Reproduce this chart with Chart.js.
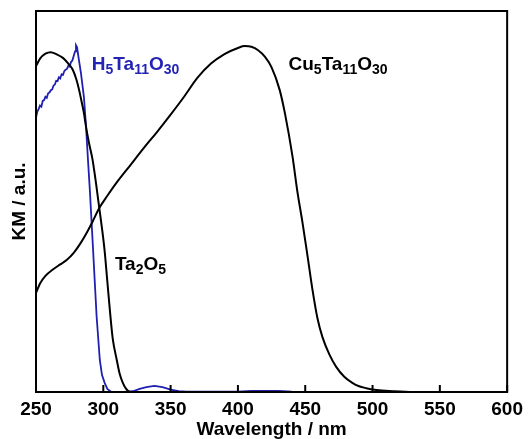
<!DOCTYPE html>
<html>
<head>
<meta charset="utf-8">
<script src="https://cdn.jsdelivr.net/npm/chart.js@4/dist/chart.umd.min.js"></script>
<style>
  body { margin: 0; background: #fff; }
  canvas { display: block; }
</style>
</head>
<body>
<canvas id="myChart" width="529" height="439"></canvas>
<script>
// wavelength (nm) and KM values
const wlCu = [250, 253, 257, 262, 268, 273, 278, 283, 288, 292, 297, 303, 310, 320, 330, 340, 350, 360, 370, 380, 390, 400, 405, 410, 415, 420, 425, 431, 435, 440.6, 444, 448, 452, 455.4, 459, 462.8, 468, 473, 479, 485, 490, 495.4, 503, 515, 530, 600];
const kmCu = [0.26, 0.285, 0.305, 0.32, 0.335, 0.347, 0.365, 0.39, 0.42, 0.447, 0.483, 0.515, 0.55, 0.595, 0.64, 0.683, 0.728, 0.775, 0.825, 0.862, 0.887, 0.903, 0.908, 0.906, 0.897, 0.88, 0.852, 0.793, 0.73, 0.617, 0.53, 0.444, 0.35, 0.268, 0.195, 0.144, 0.098, 0.066, 0.04, 0.024, 0.015, 0.01, 0.005, 0.002, 0, 0];

const wlTa = [250, 253, 257, 261, 265, 270, 274, 277.4, 280, 282, 284, 285.6, 287, 289, 292, 294.5, 297, 299, 301, 303, 305, 307, 310, 312, 314.5, 317, 320, 330, 600];
const kmTa = [0.855, 0.875, 0.888, 0.892, 0.887, 0.877, 0.862, 0.845, 0.82, 0.793, 0.76, 0.732, 0.70, 0.66, 0.61, 0.55, 0.483, 0.43, 0.37, 0.29, 0.21, 0.14, 0.084, 0.05, 0.024, 0.008, 0, 0, 0];

const wlH = [250, 251, 252, 253, 254, 255, 256, 257, 258, 259, 260, 261, 262, 263, 264, 265, 266, 267, 268, 269, 270, 271, 272, 273, 274, 275, 276, 277, 278, 279, 279.7, 280.5, 281.5, 283.4, 285.6, 287, 288.6, 290, 292.3, 295, 297.4, 299, 301, 303, 306, 315, 322, 327, 332, 338, 344, 350, 356, 362, 400, 410, 430, 440, 500, 540, 600];
const kmH = [0.72, 0.736, 0.743, 0.752, 0.749, 0.764, 0.766, 0.775, 0.772, 0.784, 0.786, 0.792, 0.794, 0.804, 0.807, 0.817, 0.816, 0.826, 0.823, 0.834, 0.832, 0.842, 0.846, 0.848, 0.856, 0.854, 0.866, 0.87, 0.882, 0.894, 0.91, 0.905, 0.88, 0.837, 0.774, 0.706, 0.61, 0.53, 0.38, 0.2, 0.084, 0.045, 0.024, 0.008, 0, 0, 0.002, 0.008, 0.013, 0.016, 0.013, 0.006, 0.002, 0.001, 0.001, 0.003, 0.003, 0.001, 0.0005, 0, 0];

const xTicks = [250, 300, 350, 400, 450, 500, 550, 600];

const blue = '#1f1fb0';
const fontFamily = '"Liberation Sans", Arial, sans-serif';

const toPoints = (xs, ys) => xs.map((x, i) => ({ x: x, y: ys[i] }));

// frame, inner ticks and compound labels
const framePlugin = {
    id: 'frame',
    afterDraw(chart) {
        const ctx = chart.ctx;
        const a = chart.chartArea;
        const xs = chart.scales.x;
        const ys = chart.scales.y;
        ctx.save();
        ctx.strokeStyle = '#000';
        ctx.lineWidth = 2;
        ctx.strokeRect(a.left, a.top, a.right - a.left, a.bottom - a.top);
        ctx.beginPath();
        xTicks.forEach(function (t) {
            const px = xs.getPixelForValue(t);
            ctx.moveTo(px, a.bottom);
            ctx.lineTo(px, a.bottom - 7);
        });
        ctx.stroke();

        const drawChem = function (parts, wl, km, color) {
            let x = xs.getPixelForValue(wl);
            const y = ys.getPixelForValue(km);
            ctx.fillStyle = color;
            ctx.textBaseline = 'alphabetic';
            ctx.textAlign = 'left';
            parts.forEach(function (p, i) {
                const sub = i % 2 === 1;
                ctx.font = 'bold ' + (sub ? 14 : 19) + 'px ' + fontFamily;
                ctx.fillText(p, x, sub ? y + 4 : y);
                x += ctx.measureText(p).width;
            });
        };
        drawChem(['H', '5', 'Ta', '11', 'O', '30'], 291.5, 0.845, '#2424b4');
        drawChem(['Cu', '5', 'Ta', '11', 'O', '30'], 437.6, 0.845, '#000');
        drawChem(['Ta', '2', 'O', '5'], 308.6, 0.32, '#000');
        ctx.restore();
    }
};

const ctx = document.getElementById('myChart').getContext('2d');

const myChart = new Chart(ctx, {
    type: 'line',
    data: {
        datasets: [
            { label: 'Cu5Ta11O30', data: toPoints(wlCu, kmCu), borderColor: '#000', borderWidth: 2, pointRadius: 0, cubicInterpolationMode: 'monotone' },
            { label: 'Ta2O5', data: toPoints(wlTa, kmTa), borderColor: '#000', borderWidth: 2, pointRadius: 0, cubicInterpolationMode: 'monotone' },
            { label: 'H5Ta11O30', data: toPoints(wlH, kmH), borderColor: blue, borderWidth: 1.8, pointRadius: 0, tension: 0 }
        ]
    },
    options: {
        responsive: false,
        animation: false,
        devicePixelRatio: 1,
        layout: { padding: { top: 11, right: 21, left: 0, bottom: 0 } },
        plugins: { legend: { display: false }, tooltip: { enabled: false } },
        scales: {
            x: {
                type: 'linear',
                min: 250,
                max: 600,
                afterBuildTicks: function (scale) {
                    scale.ticks = xTicks.map(v => ({ value: v }));
                },
                afterFit: function (scale) { scale.height = 47; },
                grid: { display: false, drawTicks: false },
                border: { display: false },
                ticks: {
                    padding: 6,
                    color: '#000',
                    maxRotation: 0,
                    font: { family: fontFamily, size: 19, weight: 'bold' }
                },
                title: {
                    display: true,
                    text: 'Wavelength / nm',
                    color: '#000',
                    padding: { top: 0, bottom: 0 },
                    font: { family: fontFamily, size: 19, weight: 'bold', lineHeight: 1 }
                }
            },
            y: {
                min: 0,
                max: 1,
                afterFit: function (scale) { scale.width = 36; },
                grid: { display: false, drawTicks: false },
                border: { display: false },
                ticks: { display: false },
                title: {
                    display: true,
                    text: 'KM / a.u.',
                    color: '#000',
                    padding: { top: 10.5, bottom: 0 },
                    font: { family: fontFamily, size: 19, weight: 'bold', lineHeight: 1 }
                }
            }
        }
    },
    plugins: [framePlugin]
});
</script>
</body>
</html>
